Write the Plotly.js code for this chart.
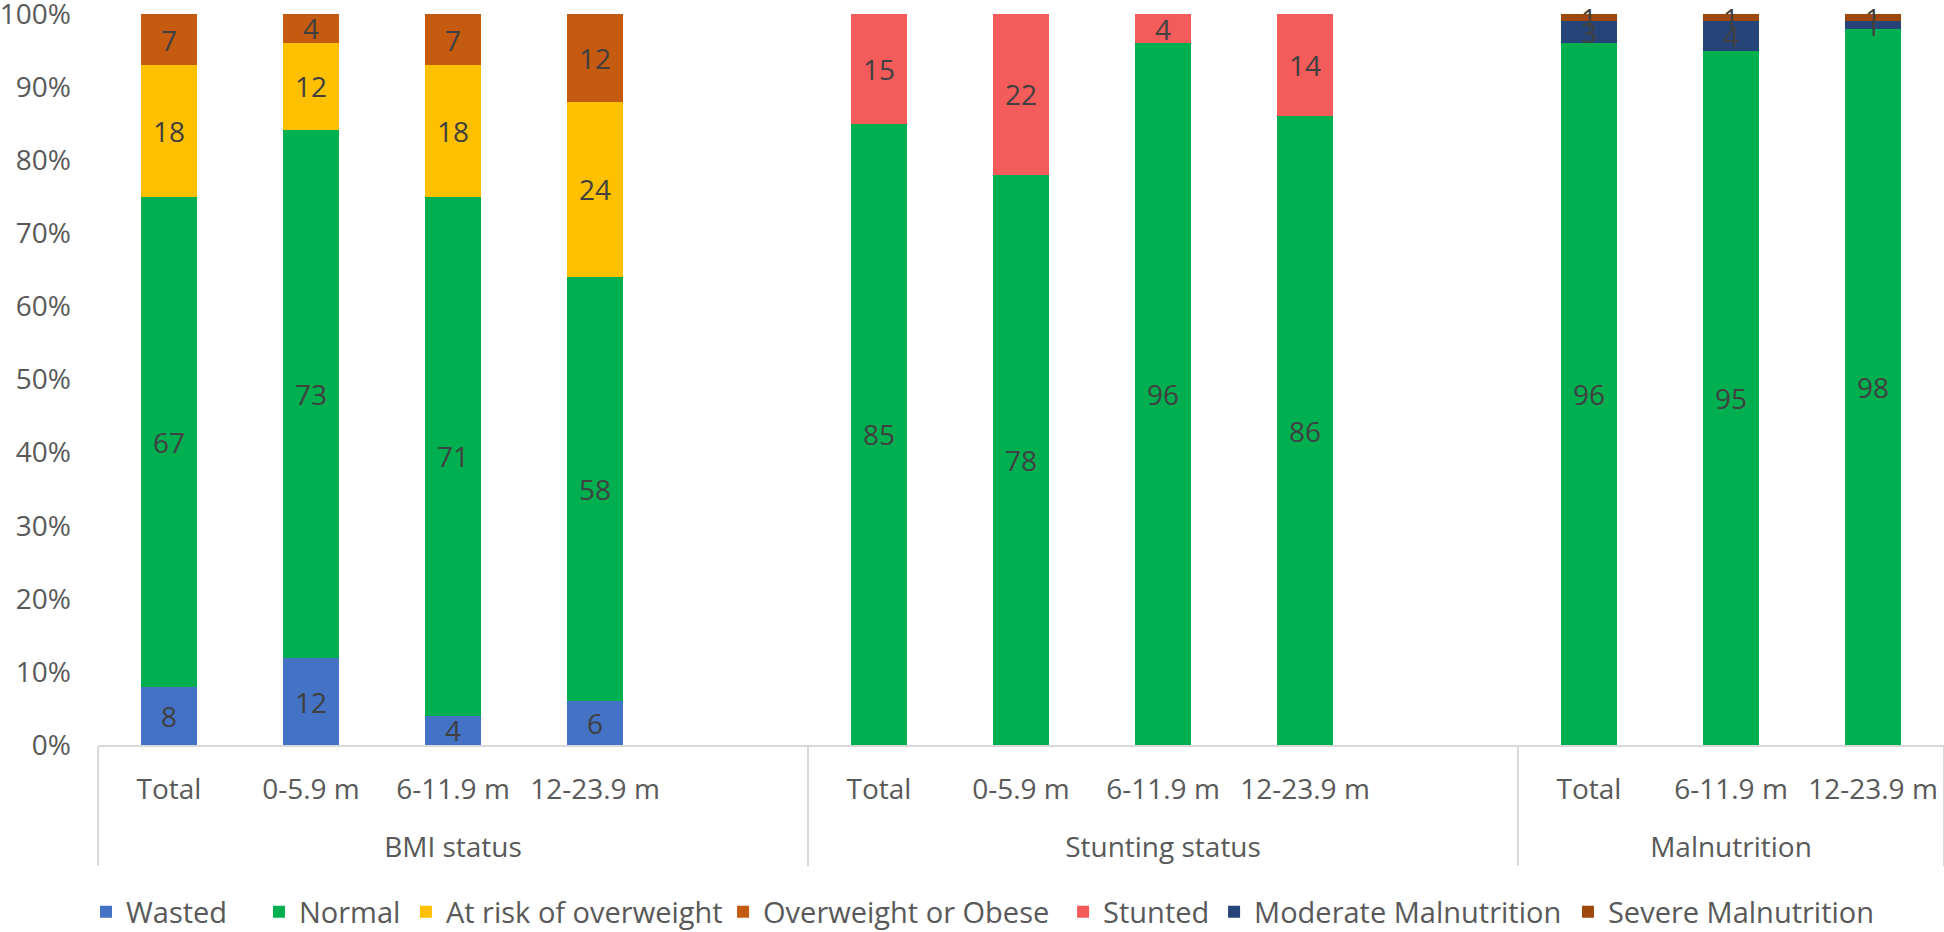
<!DOCTYPE html>
<html>
<head>
<meta charset="utf-8">
<script src="https://cdn.plot.ly/plotly-3.0.1.min.js"></script>
<style>html,body{margin:0;padding:0;background:#fff;}#chart{width:1944px;height:932px;}</style>
</head>
<body>
<div id="chart"></div>
<script>
// Category axis: group (outer) and sub-category (inner); " " marks the empty spacer slot
const groupNames = ["BMI status","Stunting status","Malnutrition"];
const groups = [groupNames[0],groupNames[0],groupNames[0],groupNames[0],groupNames[0],
                groupNames[1],groupNames[1],groupNames[1],groupNames[1],groupNames[1],
                groupNames[2],groupNames[2],groupNames[2]];
const subs = ["Total","0-5.9 m","6-11.9 m","12-23.9 m"," ",
              "Total","0-5.9 m","6-11.9 m","12-23.9 m"," ",
              "Total","6-11.9 m","12-23.9 m"];

// Series values (percent)
const wasted      = [8, 12, 4, 6, null, null, null, null, null, null, null, null, null];
const normal      = [67, 73, 71, 58, null, 85, 78, 96, 86, null, 96, 95, 98];
const atRisk      = [18, 12, 18, 24, null, null, null, null, null, null, null, null, null];
const overweight  = [7, 4, 7, 12, null, null, null, null, null, null, null, null, null];
const stunted     = [null, null, null, null, null, 15, 22, 4, 14, null, null, null, null];
const moderate    = [null, null, null, null, null, null, null, null, null, null, 3, 4, 1];
const severe      = [null, null, null, null, null, null, null, null, null, null, 1, 1, 1];

const seriesNames = ["Wasted","Normal","At risk of overweight","Overweight or Obese","Stunted","Moderate Malnutrition","Severe Malnutrition"];
const seriesData = [wasted, normal, atRisk, overweight, stunted, moderate, severe];
const colors = ["#4472C4","#00B050","#FFC000","#C55A11","#F45B5B","#264478","#9E480E"];
const yTicks = [0,10,20,30,40,50,60,70,80,90,100];

// legend entry anchors (paper x) – layout only
const legendX = [-0.0065, 0.0872, 0.1668, 0.3386, 0.5228, 0.6046, 0.7963];

const FONT = "Open Sans";
// sub-category labels get an empty second line so the group row sits lower, as in the reference
const subLabels = subs.map(s => s + "<br>&nbsp;");

const traces = seriesNames.map((name, i) => ({
  type: "bar",
  name: name,
  legend: i === 0 ? "legend" : "legend" + (i + 1),
  x: [groups, subLabels],
  y: seriesData[i],
  text: seriesData[i].map(v => v === null ? "" : String(v)),
  texttemplate: "%{text}",
  textposition: "inside",
  insidetextanchor: "middle",
  textangle: 0,
  constraintext: "none",
  cliponaxis: false,
  textfont: {family: FONT, size: 28, color: "#404040"},
  marker: {color: colors[i], line: {width: 0}},
  hoverinfo: "skip"
}));

const layout = {
  width: 1944, height: 932,
  margin: {l: 98, r: 0, t: 14, b: 187},
  barmode: "stack",
  barnorm: "percent",
  bargap: 0.606,
  paper_bgcolor: "#ffffff",
  plot_bgcolor: "#ffffff",
  font: {family: FONT, size: 28, color: "#595959"},
  showlegend: true,
  xaxis: {
    type: "multicategory",
    showline: true, linecolor: "#d9d9d9", linewidth: 2,
    showgrid: false, zeroline: false,
    showdividers: true, dividercolor: "#d9d9d9", dividerwidth: 2,
    ticks: "", tickangle: 0, ticklabelstandoff: 18,
    tickfont: {family: FONT, size: 28, color: "#595959"},
    automargin: false
  },
  yaxis: {
    range: [0, 100], tickvals: yTicks,
    ticktext: yTicks.map(v => v + "%"),
    ticklabeloverflow: "allow",
    showgrid: false, zeroline: false, showline: false,
    ticks: "", ticklabelstandoff: 26,
    tickfont: {family: FONT, size: 28, color: "#595959"},
    automargin: false
  }
};

legendX.forEach((lx, i) => {
  layout[i === 0 ? "legend" : "legend" + (i + 1)] = {
    orientation: "h", x: lx, xanchor: "left",
    yref: "container", y: 0.0215, yanchor: "middle",
    bgcolor: "rgba(0,0,0,0)",
    font: {family: FONT, size: 29, color: "#595959"},
    itemclick: false
  };
});

Plotly.newPlot("chart", traces, layout, {displayModeBar: false, staticPlot: true});
</script>
</body>
</html>
